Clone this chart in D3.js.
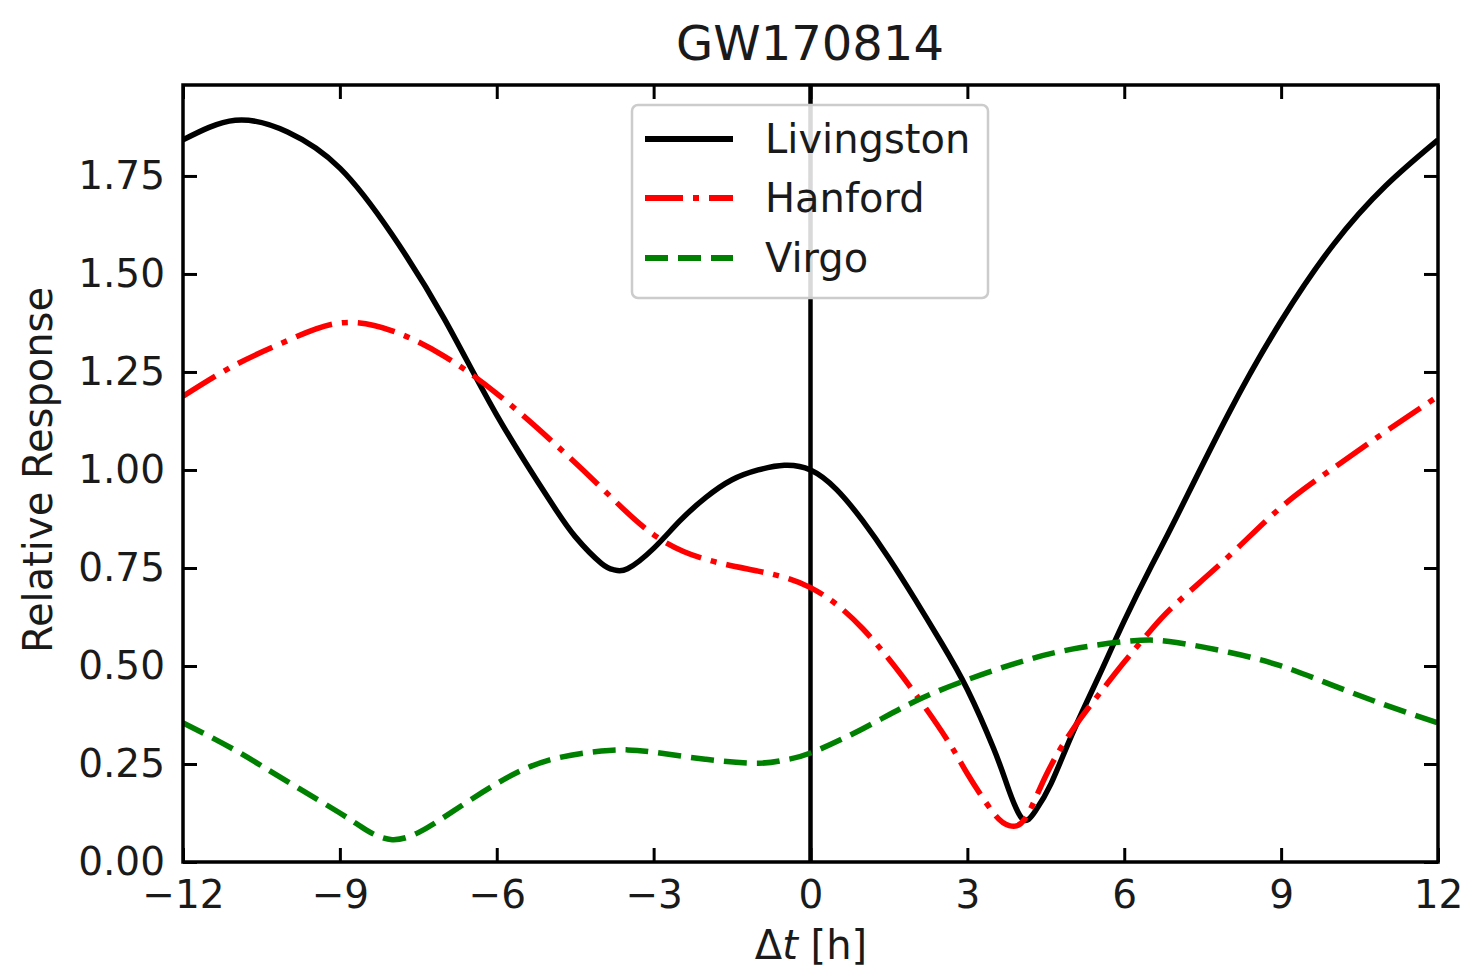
<!DOCTYPE html>
<html>
<head>
<meta charset="utf-8">
<script src="https://cdn.jsdelivr.net/npm/d3@7"></script>
<style>
  body { margin: 0; background: #fff; }
  svg { display: block; font-family: "DejaVu Sans", sans-serif; }
</style>
</head>
<body>
<svg id="chart" width="1461" height="970"></svg>
<script>
// ---- data ----
const title = "GW170814";
const seriesNames = ["Livingston", "Hanford", "Virgo"];
const xTicks = [-12, -9, -6, -3, 0, 3, 6, 9, 12];
const yTicks = [0, 0.25, 0.5, 0.75, 1.0, 1.25, 1.5, 1.75];

const livT = [-12,-11,-10,-9,-8,-7,-6,-5,-4.5,-4,-3.75,-3.5,-3,-2.5,-2,-1.5,-1,-0.5,0,0.5,1,1.5,2,2.5,3,3.5,3.75,4.04,4.3,4.6,5,5.5,6,6.5,7,8,9,10,11,12];
const livV = [1.842,1.892,1.862,1.77,1.6,1.385,1.14,0.925,0.83,0.762,0.745,0.748,0.8,0.87,0.93,0.975,1.0,1.012,1.0,0.95,0.87,0.775,0.67,0.56,0.44,0.29,0.2,0.112,0.13,0.2,0.325,0.47,0.615,0.75,0.88,1.145,1.38,1.575,1.725,1.842];

const hanT = [-12,-11,-10,-9,-8,-7,-6,-5,-4,-3,-2,-1,0,1,2,2.67,3,3.5,3.8,4.1,4.5,5,5.5,6,6.5,7,8,9,10,11,12];
const hanV = [1.188,1.268,1.33,1.375,1.355,1.29,1.195,1.08,0.955,0.835,0.772,0.742,0.70,0.595,0.43,0.30,0.225,0.125,0.093,0.11,0.22,0.335,0.425,0.51,0.59,0.66,0.78,0.905,1.005,1.098,1.188];

const virT = [-12,-11,-10,-9,-8.5,-8,-7.5,-7,-6,-5,-4,-3.5,-3,-2,-1,-0.5,0,1,2,3,4,5,6,6.5,7,8,9,10,11,12];
const virV = [0.355,0.285,0.205,0.125,0.082,0.057,0.075,0.115,0.20,0.26,0.283,0.286,0.28,0.262,0.252,0.26,0.278,0.34,0.41,0.465,0.51,0.543,0.562,0.566,0.56,0.535,0.50,0.45,0.40,0.355];

const seriesData = [
  {name: seriesNames[0], t: livT, v: livV, color: "#000000", dash: null},
  {name: seriesNames[1], t: hanT, v: hanV, color: "#ff0000", dash: "38,10,6,10"},
  {name: seriesNames[2], t: virT, v: virV, color: "#008000", dash: "23,10"}
];

// ---- layout ----
const svg = d3.select("#chart");
const L = 183, T = 85, W = 1255, H = 777;
const x = d3.scaleLinear().domain([-12, 12]).range([L, L + W]);
const y = d3.scaleLinear().domain([0, 1.982]).range([T + H, T]);

svg.append("defs").append("clipPath").attr("id", "clip")
  .append("rect").attr("x", L).attr("y", T).attr("width", W).attr("height", H);

const plot = svg.append("g").attr("clip-path", "url(#clip)");

// vertical line at 0
plot.append("line")
  .attr("x1", x(0)).attr("x2", x(0)).attr("y1", T).attr("y2", T + H)
  .attr("stroke", "#000").attr("stroke-width", 4.5);

const line = d3.line().curve(d3.curveNatural);
seriesData.forEach(s => {
  const pts = s.t.map((t, i) => [x(t), y(s.v[i])]);
  plot.append("path")
    .attr("d", line(pts))
    .attr("fill", "none")
    .attr("stroke", s.color)
    .attr("stroke-width", 5.5)
    .attr("stroke-dasharray", s.dash)
    .attr("stroke-linejoin", "round");
});

// ---- axes ----
const fs = 39;
const tickLen = 14;
const gx = svg.append("g").attr("transform", `translate(0,${T + H})`)
  .call(d3.axisBottom(x).tickValues(xTicks).tickFormat(d3.format("d"))
        .tickSizeInner(-tickLen).tickSizeOuter(0).tickPadding(18));
const gxTop = svg.append("g").attr("transform", `translate(0,${T})`)
  .call(d3.axisTop(x).tickValues(xTicks).tickFormat("").tickSizeInner(-tickLen).tickSizeOuter(0));
const gy = svg.append("g").attr("transform", `translate(${L},0)`)
  .call(d3.axisLeft(y).tickValues(yTicks).tickFormat(d3.format(".2f"))
        .tickSizeInner(-tickLen).tickSizeOuter(0).tickPadding(18));
const gyR = svg.append("g").attr("transform", `translate(${L + W},0)`)
  .call(d3.axisRight(y).tickValues(yTicks).tickFormat("").tickSizeInner(-tickLen).tickSizeOuter(0));

[gx, gxTop, gy, gyR].forEach(g => {
  g.select(".domain").remove();
  g.selectAll(".tick line").attr("stroke", "#000").attr("stroke-width", 3);
  g.selectAll(".tick text").attr("font-size", fs).attr("fill", "#1a1a1a")
    .attr("font-family", "DejaVu Sans, sans-serif");
});

// frame
svg.append("rect").attr("x", L).attr("y", T).attr("width", W).attr("height", H)
  .attr("fill", "none").attr("stroke", "#000").attr("stroke-width", 3.5);

// ---- title & labels ----
svg.append("text").attr("x", 810).attr("y", 60).attr("text-anchor", "middle")
  .attr("font-size", 48).attr("fill", "#1a1a1a").text(title);

svg.append("text").attr("transform", "translate(52,470) rotate(-90)")
  .attr("text-anchor", "middle").attr("font-size", 40).attr("fill", "#1a1a1a")
  .text("Relative Response");

const xl = svg.append("text").attr("x", 811).attr("y", 959).attr("text-anchor", "middle")
  .attr("font-size", 40).attr("fill", "#1a1a1a");
xl.append("tspan").text("Δ");
xl.append("tspan").attr("font-style", "italic").text("t");
xl.append("tspan").text(" [h]");

// ---- legend ----
const lg = svg.append("g");
lg.append("rect").attr("x", 632).attr("y", 105).attr("width", 356).attr("height", 193)
  .attr("rx", 6).attr("ry", 6)
  .attr("fill", "#fff").attr("fill-opacity", 0.85)
  .attr("stroke", "#cccccc").attr("stroke-width", 2.5);
const rowY = [139, 198, 258];
seriesData.forEach((s, i) => {
  lg.append("line").attr("x1", 645).attr("x2", 733).attr("y1", rowY[i]).attr("y2", rowY[i])
    .attr("stroke", s.color).attr("stroke-width", 6).attr("stroke-dasharray", s.dash);
  lg.append("text").attr("x", 765).attr("y", rowY[i]).attr("dy", "0.35em")
    .attr("font-size", 40).attr("fill", "#1a1a1a").text(s.name);
});
</script>
</body>
</html>
